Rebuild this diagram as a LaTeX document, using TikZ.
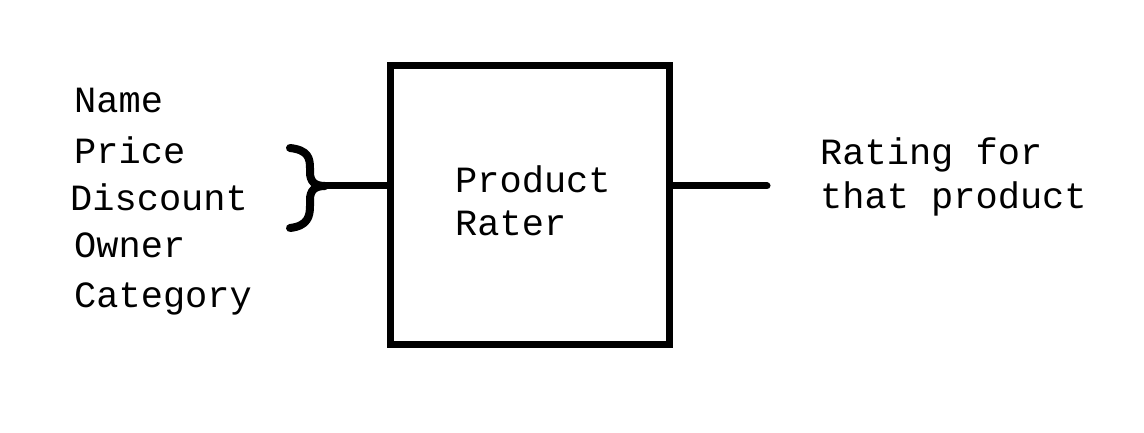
\documentclass[tikz,border=0pt]{standalone}
\usepackage{fontspec}
\setmonofont{Liberation Mono}
\begin{document}
\begin{tikzpicture}[x=1pt,y=-1pt,
  lbl/.style={anchor=base west,inner sep=0pt,font=\fontsize{37}{43}\selectfont\ttfamily},
  heavy/.style={line width=7pt,line cap=round,line join=round}]
\useasboundingbox (0,0) rectangle (1144,433);
\node[draw,line width=7pt,minimum width=279pt,minimum height=279pt,inner sep=0pt] (box) at (530,205) {};
\node[lbl] (n1) at (74,113) {Name};
\node[lbl] (n2) at (74,164) {Price};
\node[lbl] (n3) at (70,211) {Discount};
\node[lbl] (n4) at (74,257) {Owner};
\node[lbl] (n5) at (74,307) {Category};
\node[lbl] (p1) at (455,193) {Product};
\node[lbl] (p2) at (455,236) {Rater};
\node[lbl] (r1) at (820,165) {Rating for};
\node[lbl] (r2) at (820,208) {that product};
\coordinate (tip) at (325,186);
\coordinate (btop) at (290,148);
\coordinate (bbot) at (290,228);
\coordinate (out) at (767,186);
\draw[heavy,line width=8pt] (btop) .. controls (308,150) and (310,158) .. (310,168)
  -- (310,172) .. controls (310,182) and (315,186) .. (tip)
  .. controls (315,186) and (310,190) .. (310,200)
  -- (310,206) .. controls (310,216) and (308,226) .. (bbot);
\draw[line width=7pt] (tip) -- (box.west |- tip);
\draw[heavy] (box.east |- out) -- (out);
\end{tikzpicture}
\end{document}
